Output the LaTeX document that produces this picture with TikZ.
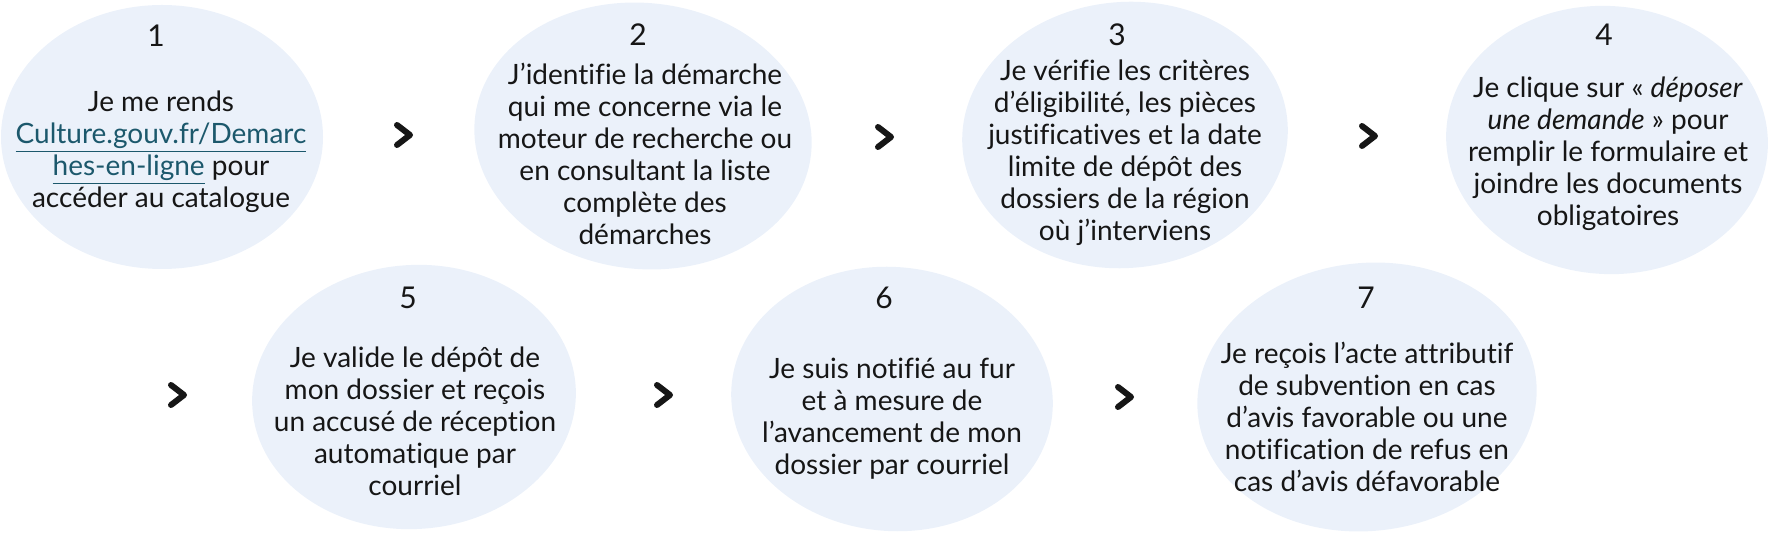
\documentclass[tikz,border=0pt]{standalone}
\usepackage{fontspec}
\setmainfont{Lato}[Ligatures=NoCommon]
\usepackage{tikz}
\usetikzlibrary{shapes}
\definecolor{fond}{RGB}{235,241,250}
\definecolor{lien}{RGB}{28,88,108}
\definecolor{encre}{RGB}{22,22,22}
\newcommand{\lien}[1]{{\color{lien}\underline{#1}}}
\tikzset{chevron/.pic={\draw[encre, line width=3pt, line cap=round, line join=round] (-7,-10) -- (6,0) -- (-7,10);}}

\begin{document}
\begin{tikzpicture}[x=0.5pt, y=-0.5pt, inner sep=0pt, text=encre, font=\fontsize{14}{16}\selectfont]
\tikzstyle{bulle}=[ellipse, fill=fond, draw=none]
\tikzstyle{numero}=[font=\fontsize{15}{16}\selectfont]
\tikzstyle{texte}=[align=center]
\useasboundingbox (0,0) rectangle (1771,533);

% premiere rangee
\node[bulle, minimum width=161pt, minimum height=132pt] (b1) at (162,137) {};
\node[bulle, minimum width=169pt, minimum height=133pt, rotate=-6] (b2) at (643,136) {};
\node[bulle, minimum width=163pt, minimum height=133pt, rotate=5] (b3) at (1125,135) {};
\node[bulle, minimum width=161pt, minimum height=134pt, rotate=-4] (b4) at (1607,140) {};
% deuxieme rangee
\node[bulle, minimum width=162pt, minimum height=132pt, rotate=4] (b5) at (414,397) {};
\node[bulle, minimum width=161pt, minimum height=132pt, rotate=-5] (b6) at (892,399) {};
\node[bulle, minimum width=170pt, minimum height=134pt, rotate=6] (b7) at (1367,397) {};

\node[numero] (n1) at (156,36) {1};
\node[numero] (n2) at (638,35) {2};
\node[numero] (n3) at (1117,35) {3};
\node[numero] (n4) at (1604,35) {4};
\node[numero] (n5) at (408,298) {5};
\node[numero] (n6) at (884,298) {6};
\node[numero] (n7) at (1366,298) {7};

\node[texte] (t1) at (161,152) {Je me rends\\ \lien{Culture.gouv.fr/Demarc}\\ \lien{hes-en-ligne} pour\\ accéder au catalogue};
\node[texte] (t2) at (645,154) {J’identifie la démarche\\ qui me concerne via le\\ moteur de recherche ou\\ en consultant la liste\\ complète des\\ démarches};
\node[texte] (t3) at (1125,153) {Je vérifie les critères\\ d’éligibilité, les pièces\\ justificatives et la date\\ limite de dépôt des\\ dossiers de la région\\ où j’interviens};
\node[texte] (t4) at (1608,154) {Je clique sur « \textit{déposer}\\ \textit{une demande} » pour\\ remplir le formulaire et\\ joindre les documents\\ obligatoires};
\node[texte] (t5) at (415,421) {Je valide le dépôt de\\ mon dossier et reçois\\ un accusé de réception\\ automatique par\\ courriel};
\node[texte] (t6) at (892,419) {Je suis notifié au fur\\ et à mesure de\\ l’avancement de mon\\ dossier par courriel};
\node[texte] (t7) at (1367,417) {Je reçois l’acte attributif\\ de subvention en cas\\ d’avis favorable ou une\\ notification de refus en\\ cas d’avis défavorable};

% chevrons entre les etapes
\pic at (404,135) {chevron};
\pic at (885,137) {chevron};
\pic at (1369,136) {chevron};
\pic at (178,395) {chevron};
\pic at (664,395) {chevron};
\pic at (1125,397) {chevron};
\end{tikzpicture}
\end{document}
